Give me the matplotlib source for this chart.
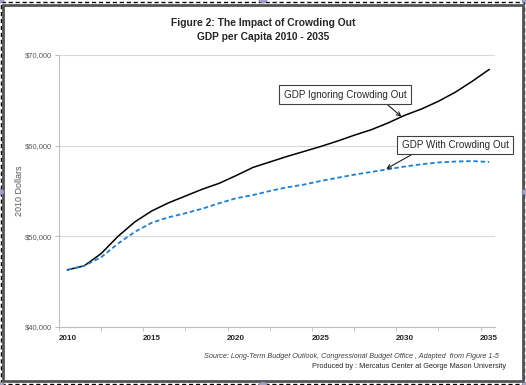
import numpy as np
import matplotlib
matplotlib.use('agg')
import matplotlib.pyplot as plt
from matplotlib.patches import Rectangle, Circle

plt.rcParams['font.family'] = ['Liberation Sans', 'DejaVu Sans']

years = list(range(2010, 2036))
gdp_ignoring = [46300, 46750, 48100, 50000, 51600, 52800, 53700, 54450, 55200, 55850,
                56700, 57600, 58200, 58800, 59350, 59900, 60500, 61150, 61750, 62500,
                63350, 64050, 64900, 65900, 67100, 68400]
gdp_crowding = [46300, 46750, 47700, 49200, 50500, 51500, 52100, 52550, 53050, 53650,
                54200, 54550, 55000, 55400, 55700, 56100, 56450, 56800, 57100, 57400,
                57700, 57950, 58150, 58250, 58300, 58200]
ytick_vals = [40000, 50000, 60000, 70000]
ytick_labels = ['$40,000', '$50,000', '$60,000', '$70,000']
xtick_vals = [2010, 2015, 2020, 2025, 2030, 2035]

W, H = 526, 385
fig = plt.figure(figsize=(W/100, H/100), dpi=100)

# outer frame stuff (chart border + selection)
fig.patches.append(Rectangle((1/W, 1/H), 1-3/W, 1-3/H, transform=fig.transFigure,
                             fill=False, ec='black', lw=1.0, ls=(0, (3, 2)), zorder=0))
fig.patches.append(Rectangle((2.5/W, 4/H), 1-6/W, 1-9/H, transform=fig.transFigure,
                             fill=False, ec='#555555', lw=2.0, zorder=1))

ax = fig.add_axes([59/W, 1-327/H, (495-59)/W, (327-55)/H])
ax.plot(years, gdp_ignoring, color='black', lw=1.1, zorder=3)
ax.plot(years, gdp_crowding, color='#1f80d0', lw=1.3, ls=(0, (2.5, 1.5)), zorder=3)

ax.set_ylim(40000, 70000)
ax.set_xlim(2009.5, 2035.35)
ax.set_yticks(ytick_vals)
ax.set_yticklabels(ytick_labels, fontsize=5.5, color='#595959')
ax.set_xticks(xtick_vals)
ax.set_xticklabels([str(y) for y in xtick_vals], fontsize=5.8, fontweight='bold', color='#262626')
ax.set_xticks(np.arange(2009.5, 2035.5, 2.5), minor=True)
ax.tick_params(axis='x', which='major', length=0, pad=6)
ax.tick_params(axis='x', which='minor', length=3, color='#bfbfbf', direction='out')
ax.tick_params(axis='y', length=3, color='#bfbfbf', pad=2)
ax.grid(axis='y', color='#d9d9d9', lw=0.8)
ax.set_axisbelow(True)
for s in ['top', 'right']:
    ax.spines[s].set_visible(False)
for s in ['left', 'bottom']:
    ax.spines[s].set_color('#bfbfbf')
    ax.spines[s].set_linewidth(0.8)
ax.set_ylabel('2010 Dollars', fontsize=6.5, color='#595959', labelpad=1)

box = dict(boxstyle='square,pad=0.45', fc='white', ec='#404040', lw=0.8)
ax.annotate('GDP Ignoring Crowding Out', xy=(2029.8, 63200), xytext=(2026.45, 65630),
            fontsize=7.1, ha='center', va='center', bbox=box, annotation_clip=False,
            color='#262626',
            arrowprops=dict(arrowstyle='->', color='#202020', lw=0.8, shrinkA=0, shrinkB=0,
                            relpos=(0.8, 0)))
ax.annotate('GDP With Crowding Out', xy=(2028.9, 57450), xytext=(2033.0, 60070),
            fontsize=7.1, ha='center', va='center', bbox=box, annotation_clip=False,
            color='#262626',
            arrowprops=dict(arrowstyle='->', color='#202020', lw=0.8, shrinkA=0, shrinkB=0,
                            relpos=(0.17, 0)))

fig.text(263/W, 1-23/H, 'Figure 2: The Impact of Crowding Out', fontsize=7.4, fontweight='bold',
         ha='center', va='center', color='#262626')
fig.text(263/W, 1-37/H, 'GDP per Capita 2010 - 2035', fontsize=7.4, fontweight='bold',
         ha='center', va='center', color='#262626')
fig.text(499/W, 1-357/H, 'Source: Long-Term Budget Outlook, Congressional Budget Office , Adapted  from Figure 1-5',
         fontsize=5.25, style='italic', ha='right', va='center', color='#404040')
fig.text(506/W, 1-366/H, 'Produced by : Mercatus Center at George Mason University',
         fontsize=5.35, ha='right', va='center', color='#262626')

# selection handles
for hx, hy in [(0, 0), (263, 0), (526, 0), (0, 192), (526, 192), (0, 385), (263, 385), (526, 385)]:
    fig.patches.append(Circle((hx/W, 1-hy/H), 4/W, transform=fig.transFigure,
                              fc='#a3a3c8', ec='#8080a8', lw=0.5, zorder=5))

fig.savefig('out.png', dpi=100)
